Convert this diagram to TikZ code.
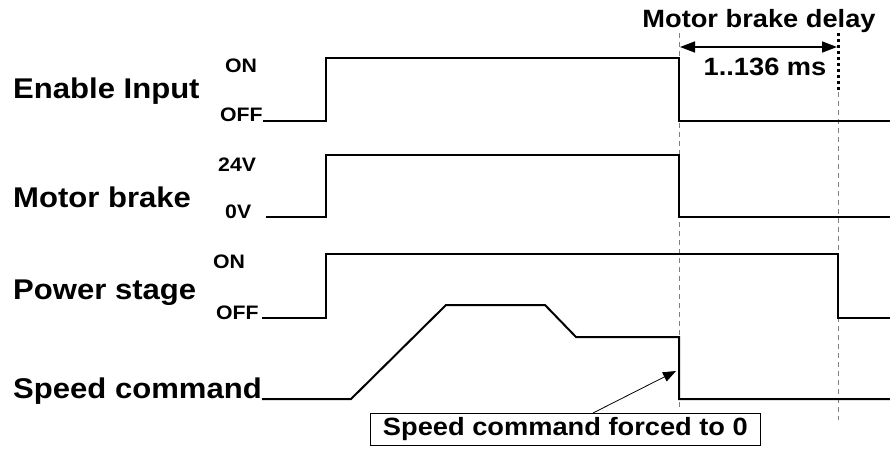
\documentclass[tikz,border=0pt]{standalone}
\usepackage{fontspec}
\setmainfont{Liberation Sans}[FakeStretch=1.09]
\usetikzlibrary{arrows.meta}
\begin{document}
\begin{tikzpicture}[x=1pt,y=-1pt,
  sig/.style={line width=2pt, line join=miter},
  guide/.style={gray, line width=0.8pt, dash pattern=on 5pt off 4pt},
  big/.style={font=\fontsize{28.5}{30}\selectfont\bfseries, inner sep=0, anchor=base west},
  small/.style={font=\fontsize{19.5}{21}\selectfont\bfseries, inner sep=0, anchor=base west},
  mid/.style={font=\fontsize{25}{27}\selectfont\bfseries, inner sep=0},
  tipb/.tip={Triangle[length=15pt,width=11pt]}]
\useasboundingbox (0,0) rectangle (890,450);
% signal names
\node[big] (l1) at (13,98) {Enable Input};
\node[big] (l2) at (13,207) {Motor brake};
\node[big] (l3) at (13,299) {Power stage};
\node[big] (l4) at (13,398) {Speed command};
% level labels
\node[small] (on1) at (225,72) {ON};
\node[small] (off1) at (220,121) {OFF};
\node[small] (v24) at (218,171) {24V};
\node[small] (v0) at (225,218) {0V};
\node[small] (on3) at (213,268) {ON};
\node[small] (off3) at (216,319) {OFF};
% guide lines
\draw[guide] (679,33) -- (679,408);
\draw[guide] (838,92) -- (838,420);
\draw[line width=3pt, dash pattern=on 3pt off 3pt] (838,33) -- (838,92);
% signals
\draw[sig] (263,121) -- (326,121) -- (326,58) -- (679,58) -- (679,121) -- (890,121);
\draw[sig] (266,217) -- (326,217) -- (326,155) -- (679,155) -- (679,217) -- (890,217);
\draw[sig] (262,318) -- (326,318) -- (326,254) -- (838,254) -- (838,318) -- (890,318);
\draw[sig] (262,399) -- (351,399) -- (446,305) -- (545,305) -- (576,337) -- (679,337) -- (679,399) -- (890,399);
% brake delay
\coordinate (dA) at (680,47);
\coordinate (dB) at (837,47);
\draw[{tipb}-{tipb}, line width=1.5pt] (dA) -- (dB);
\node[mid, anchor=base] (ms) at (765,75) {1..136 ms};
\node[mid, anchor=base] (mbd) at (759,27) {Motor brake delay};
% forced to 0
\node[mid, draw, line width=0.8pt, minimum width=390pt, minimum height=32pt, anchor=north west] (box) at (370,413) {Speed command forced to 0};
\coordinate (tip) at (676,371);
\draw[-{Triangle[length=13pt,width=10pt]}, line width=0.8pt] ([xshift=223pt]box.north west) -- (tip);
\end{tikzpicture}
\end{document}
